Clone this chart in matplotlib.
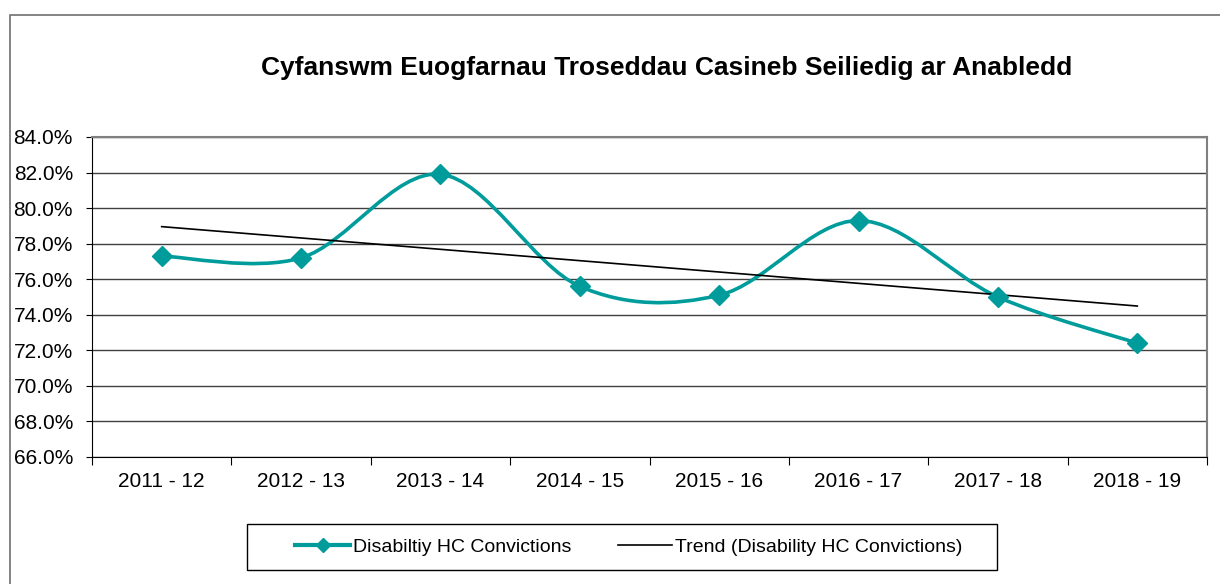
import matplotlib
matplotlib.use('Agg')
import matplotlib.pyplot as plt
import numpy as np
from matplotlib.path import Path
from matplotlib.patches import PathPatch, Rectangle
from matplotlib.lines import Line2D
from matplotlib.ticker import FuncFormatter, FixedLocator

plt.rcParams['font.family'] = ['Liberation Sans', 'DejaVu Sans']

years = ['2011 - 12', '2012 - 13', '2013 - 14', '2014 - 15',
         '2015 - 16', '2016 - 17', '2017 - 18', '2018 - 19']
convictions = [77.3, 77.2, 81.9, 75.6, 75.1, 79.3, 75.0, 72.4]

teal = '#009C9C'

fig = plt.figure(figsize=(12.2, 5.84), dpi=100)
ax = fig.add_axes([92/1220, 1-457/584, 1115/1220, 320/584])

x = np.arange(len(years))
y = np.array(convictions)

# smoothed line like excel (bezier between points)
verts = [(x[0], y[0])]
codes = [Path.MOVETO]
n = len(x)
for i in range(n-1):
    p0 = np.array([x[max(i-1, 0)], y[max(i-1, 0)]])
    p1 = np.array([x[i], y[i]])
    p2 = np.array([x[i+1], y[i+1]])
    p3 = np.array([x[min(i+2, n-1)], y[min(i+2, n-1)]])
    c1 = p1 + (p2 - p0)/6
    c2 = p2 - (p3 - p1)/6
    verts += [tuple(c1), tuple(c2), tuple(p2)]
    codes += [Path.CURVE4]*3
ax.add_patch(PathPatch(Path(verts, codes), fill=False, edgecolor=teal, lw=2.6, zorder=3))
ax.plot(x, y, 'D', color=teal, markersize=10, zorder=4)

# linear trend
m, b = np.polyfit(x, y, 1)
ax.plot(x, m*x+b, color='black', lw=1.2, zorder=3)

ax.set_xlim(-0.5, 7.5)
ax.set_ylim(66, 84)
ax.set_yticks(np.arange(66, 84.1, 2))
ax.yaxis.set_major_formatter(FuncFormatter(lambda v, p: '%.1f%%' % v))
ax.grid(axis='y', color='#404040', lw=1)
ax.set_axisbelow(True)

ax.xaxis.set_major_locator(FixedLocator(np.arange(-0.5, 8, 1)))
ax.xaxis.set_major_formatter(FuncFormatter(lambda v, p: ''))
ax.set_xticks(x, minor=True)
ax.set_xticklabels(years, minor=True)
ax.tick_params(axis='x', which='minor', length=0, pad=11, labelsize=15)
ax.tick_params(axis='x', which='major', length=6, color='black')
ax.tick_params(axis='y', length=4.3, labelsize=15, pad=9.4)

ax.spines['top'].set_color('#808080')
ax.spines['right'].set_color('#808080')
ax.spines['top'].set_linewidth(1.5)
ax.spines['right'].set_linewidth(1.5)

fig.text(667/1220, 1-68/584, 'Cyfanswm Euogfarnau Troseddau Casineb Seiliedig ar Anabledd',
         ha='center', va='center', fontsize=19, fontweight='bold')

handles = [Line2D([], [], color=teal, lw=3, marker='D', markersize=7),
           Line2D([], [], color='black', lw=1.2)]
leg = fig.legend(handles, ['Disabiltiy HC Convictions', 'Trend (Disability HC Convictions)'],
                 loc='center', bbox_to_anchor=(629/1220, 1-547/584), ncol=2,
                 fontsize=14, frameon=False, handlelength=2.8, handletextpad=0.15,
                 columnspacing=2.4)

fig.patches.append(Rectangle((247/1220, 1-570/584), 750/1220, 46/584, transform=fig.transFigure,
                             fill=False, edgecolor='black', lw=1))
fig.patches.append(Rectangle((9.5/1220, -0.1), 1.2, 1-15/584+0.1, transform=fig.transFigure,
                             fill=False, edgecolor='#707070', lw=1.2))

fig.savefig('out.png', dpi=100)
